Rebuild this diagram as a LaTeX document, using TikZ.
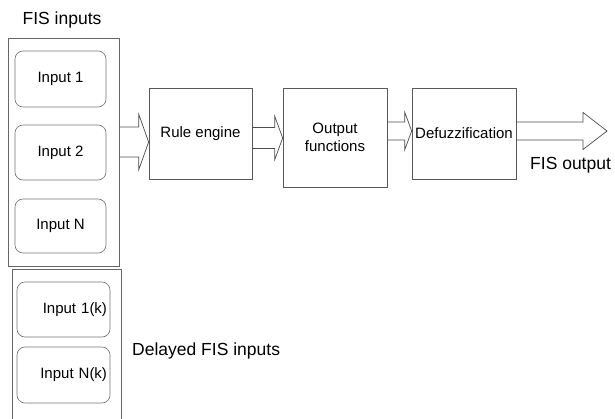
\documentclass[tikz,border=0pt]{standalone}
\usepackage{fontspec}
\setmainfont{Liberation Sans}
\usetikzlibrary{calc}

\tikzset{
  frame/.style={draw=black!60, line width=0.7pt, inner sep=0pt},
  block/.style={draw=black!65, line width=0.7pt, inner sep=0pt, align=center,
    font=\fontsize{15}{18}\selectfont},
  inbox/.style={draw=black!55, line width=0.65pt, rounded corners=8pt, inner sep=0pt,
    font=\fontsize{15}{18}\selectfont},
  dinbox/.style={inbox, inner xsep=3pt, align=right},
  caption/.style={font=\fontsize{17.5}{20}\selectfont, inner sep=0pt},
  blockarrow/.style={draw=black!70, line width=0.7pt, line join=miter}
}

% hollow block arrow: from, to, centre y, body half-height, head half-height, head length (pt)
\newcommand\fatarrow[6]{%
  \draw[blockarrow] let \p1=(#1), \p2=(#2) in
    (\x1,#3pt+#4pt) -- (\x2-#6pt,#3pt+#4pt) -- (\x2-#6pt,#3pt+#5pt) -- (\x2,#3pt)
    -- (\x2-#6pt,#3pt-#5pt) -- (\x2-#6pt,#3pt-#4pt) -- (\x1,#3pt-#4pt);
}

\begin{document}
\begin{tikzpicture}[x=1pt,y=1pt]
  \useasboundingbox (0,0) rectangle (615,418);

  % input group
  \node[caption] (inlabel) at (62,398) {FIS inputs};
  \node[frame, minimum width=111, minimum height=228] (inputs) at (63.5,266) {};
  \node[inbox, minimum width=91, minimum height=56] (in1) at (60.5,339) {Input 1};
  \node[inbox, minimum width=91, minimum height=55] (in2) at (60.5,265.5) {Input 2};
  \node[inbox, minimum width=91, minimum height=54] (inN) at (60.5,192) {Input N};

  % delayed input group (runs off the lower edge)
  \node[frame, minimum width=109, minimum height=160] (delayed) at (66.5,69) {};
  \node[dinbox, text width=87, minimum height=55] (in1k) at (63.5,108.5) {Input 1(k)};
  \node[dinbox, text width=87, minimum height=56] (inNk) at (63.5,43) {Input N(k)};
  \node[caption, anchor=west] (dlabel) at (132,67) {Delayed FIS inputs};

  % processing chain
  \node[block, minimum width=103, minimum height=91] (rule) at (200.5,284.5) {\raisebox{-3pt}{Rule engine}};
  \node[block, minimum width=104, minimum height=99] (outf) at (335,280.5) {Output\\functions};
  \node[block, minimum width=104, minimum height=91] (defuz) at (464,284.5) {Defuzzification};
  \coordinate (outtip) at (607,287);
  \node[caption, anchor=west] (outlabel) at (530,253) {FIS output};

  % block arrows
  \fatarrow{inputs.east}{rule.west}{276}{15}{28}{10}
  \fatarrow{rule.east}{outf.west}{280}{10.5}{22}{8}
  \fatarrow{outf.east}{defuz.west}{287}{9}{19}{7}
  \fatarrow{defuz.east}{outtip}{287}{9}{18.5}{24}
\end{tikzpicture}
\end{document}
